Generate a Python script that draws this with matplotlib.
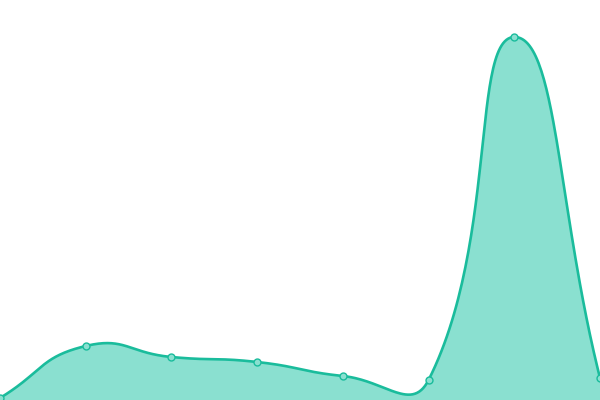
import numpy as np
import matplotlib
matplotlib.use("Agg")
import matplotlib.pyplot as plt

# values (pixel height above the bottom edge)
positions = [0, 1, 2, 3, 4, 5, 6, 7]
values = [2, 54, 43, 38, 24, 20, 363, 22]

line_color = "#1abc9c"
fill_color = "#8ae0d0"

W, H = 600, 400


def smooth_bezier(xs, ys, smooth=0.5, n=60):
    # control points built in screen space, weighted by segment lengths
    px = np.asarray(xs, float) * W / (len(xs) - 1)
    py = np.asarray(ys, float)
    k = len(px)
    cin, cout = [], []
    for i in range(k):
        j0 = max(i - 1, 0)
        j1 = min(i + 1, k - 1)
        dx = (px[j1] - px[j0]) * smooth
        dy = (py[j1] - py[j0]) * smooth
        d0 = np.hypot(px[i] - px[j0], py[i] - py[j0])
        d1 = np.hypot(px[j1] - px[i], py[j1] - py[i])
        r = d0 / (d0 + d1) if d0 + d1 > 0 else 0.5
        cin.append((px[i] - dx * r, py[i] - dy * r))
        cout.append((px[i] + dx * (1 - r), py[i] + dy * (1 - r)))
    ox, oy = [], []
    t = np.linspace(0, 1, n)
    for i in range(k - 1):
        p0 = (px[i], py[i])
        p1 = cout[i]
        p2 = cin[i + 1]
        p3 = (px[i + 1], py[i + 1])
        bx = ((1 - t)**3 * p0[0] + 3 * (1 - t)**2 * t * p1[0]
              + 3 * (1 - t) * t**2 * p2[0] + t**3 * p3[0])
        by = ((1 - t)**3 * p0[1] + 3 * (1 - t)**2 * t * p1[1]
              + 3 * (1 - t) * t**2 * p2[1] + t**3 * p3[1])
        ox.append(bx)
        oy.append(by)
    ox = np.concatenate(ox) * (len(xs) - 1) / W
    return ox, np.concatenate(oy)


sx, sy = smooth_bezier(positions, values)

fig = plt.figure(figsize=(6, 4), dpi=100)
ax = fig.add_axes([0, 0, 1, 1])
ax.fill_between(sx, sy, 0, color=fill_color, linewidth=0)
ax.plot(sx, sy, color=line_color, linewidth=1.9, solid_capstyle="round")
ax.plot(positions, values, "o", markersize=5, markerfacecolor=fill_color,
        markeredgecolor=line_color, markeredgewidth=1)
ax.set_xlim(0, 7)
ax.set_ylim(0, H)
ax.axis("off")

fig.savefig("out.png", dpi=100)
